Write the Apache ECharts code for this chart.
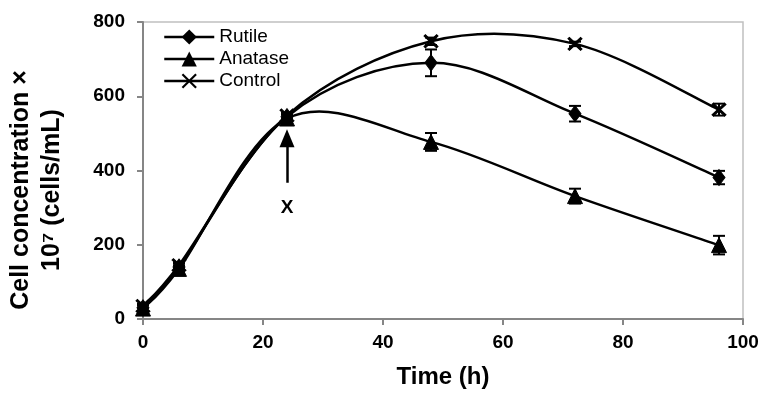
<!DOCTYPE html>
<html>
<head>
<meta charset="utf-8">
<script src="https://cdn.jsdelivr.net/npm/echarts@6/dist/echarts.min.js"></script>
<style>
  html, body { margin: 0; padding: 0; background: #fff; }
  #chart { width: 762px; height: 394px; }
</style>
</head>
<body>
<div id="chart"></div>
<script>
// sampling times (h)
const times = [0, 6, 24, 48, 72, 96];
// cell concentration x 10^7 cells/mL
const rutile  = [30, 140, 545, 690, 553, 381];
const anatase = [28, 135, 540, 477, 331, 199];
const control = [35, 145, 548, 748, 741, 564];
// error bars (+/-)
const rutileErr  = [8, 10, 10, 36, 21, 18];
const anataseErr = [8, 10, 10, 24, 20, 25];
const controlErr = [6, 8, 8, 10, 6, 16];
const seriesNames = ['Rutile', 'Anatase', 'Control'];
// arrow marking addition point (end = centre of the arrow head)
const arrowFrom = [24, 367];
const arrowTo = [24, 487];
const arrowLabelAt = [24, 300];

const font = '"Liberation Sans", Arial, sans-serif';
const crossPath = 'path://M0,1 L1,0 L5,4 L9,0 L10,1 L6,5 L10,9 L9,10 L5,6 L1,10 L0,9 L4,5 Z';

function pairs(vals) {
  return times.map((t, i) => [t, vals[i]]);
}

// spline like the spreadsheet "smoothed line", drawn segment by segment on the axis scale
function curveSeries(vals) {
  return {
    type: 'custom',
    silent: true,
    z: 2,
    data: pairs(vals),
    encode: { x: 0, y: 1 },
    renderItem: function (params, api) {
      const i = params.dataIndex;
      if (i === 0) return { type: 'group', children: [] };
      const n = times.length;
      const p = j => {
        j = Math.max(0, Math.min(n - 1, j));
        return api.coord([times[j], vals[j]]);
      };
      const p0 = p(i - 2), p1 = p(i - 1), p2 = p(i), p3 = p(i + 1);
      return {
        type: 'bezierCurve',
        shape: {
          x1: p1[0], y1: p1[1], x2: p2[0], y2: p2[1],
          cpx1: p1[0] + (p2[0] - p0[0]) / 6, cpy1: p1[1] + (p2[1] - p0[1]) / 6,
          cpx2: p2[0] - (p3[0] - p1[0]) / 6, cpy2: p2[1] - (p3[1] - p1[1]) / 6
        },
        style: { stroke: '#000', lineWidth: 2.5, fill: null }
      };
    }
  };
}

function errorSeries(vals, errs) {
  return {
    type: 'custom',
    silent: true,
    z: 3,
    data: times.map((t, i) => [t, vals[i], errs[i]]),
    encode: { x: 0, y: 1 },
    renderItem: function (params, api) {
      const x = api.value(0), y = api.value(1), e = api.value(2);
      const hi = api.coord([x, y + e]);
      const lo = api.coord([x, y - e]);
      const w = 6;
      const st = { stroke: '#000', lineWidth: 2 };
      return {
        type: 'group',
        children: [
          { type: 'line', shape: { x1: hi[0], y1: hi[1], x2: lo[0], y2: lo[1] }, style: st },
          { type: 'line', shape: { x1: hi[0] - w, y1: hi[1], x2: hi[0] + w, y2: hi[1] }, style: st },
          { type: 'line', shape: { x1: lo[0] - w, y1: lo[1], x2: lo[0] + w, y2: lo[1] }, style: st }
        ]
      };
    }
  };
}

// markers only (curve comes from curveSeries)
function markerSeries(name, vals, symbol, size) {
  return {
    name: name,
    type: 'line',
    data: pairs(vals),
    symbol: symbol,
    symbolSize: size,
    showAllSymbol: true,
    z: 4,
    lineStyle: { color: '#000', width: 2.5, opacity: 0 },
    itemStyle: { color: '#000', borderColor: '#000' }
  };
}

const chart = echarts.init(document.getElementById('chart'));
const rutileS = markerSeries('Rutile', rutile, 'diamond', [12, 16]);
const anataseS = markerSeries('Anatase', anatase, 'triangle', [15, 15]);
const controlS = markerSeries('Control', control, crossPath, [14, 13]);
controlS.markLine = {
  silent: true,
  symbol: ['none', 'triangle'],
  symbolSize: [15, 18],
  label: { show: false },
  lineStyle: { color: '#000', width: 2.5, type: 'solid', opacity: 1 },
  data: [[{ coord: arrowFrom }, { coord: arrowTo }]]
};
controlS.markPoint = {
  silent: true,
  symbol: 'rect',
  symbolSize: 1,
  itemStyle: { color: 'rgba(0,0,0,0)' },
  label: { show: true, position: 'inside', formatter: 'X', color: '#000', fontFamily: font, fontSize: 19, fontWeight: 'bold' },
  data: [{ coord: arrowLabelAt }]
};

chart.setOption({
  animation: false,
  grid: {
    left: 143, right: 19, top: 22, bottom: 71,
    show: true, borderColor: '#c0c0c0', borderWidth: 1.5
  },
  legend: {
    data: seriesNames,
    orient: 'vertical',
    left: 163,
    top: 27,
    padding: 0,
    itemWidth: 50,
    itemHeight: 19,
    itemGap: 2,
    lineStyle: { color: '#000', width: 2.5, opacity: 1 },
    textStyle: { fontFamily: font, fontSize: 19, color: '#000', lineHeight: 20 }
  },
  xAxis: {
    type: 'value',
    min: 0, max: 100, interval: 20,
    name: 'Time (h)',
    nameLocation: 'middle',
    nameGap: 46,
    nameTextStyle: { fontFamily: font, fontSize: 24, fontWeight: 'bold', color: '#000' },
    axisLine: { lineStyle: { color: '#868686', width: 2 } },
    axisTick: { show: true, inside: false, length: 6, lineStyle: { color: '#868686', width: 2 } },
    axisLabel: { margin: 14, fontFamily: font, fontSize: 19, fontWeight: 'bold', color: '#000' },
    splitLine: { show: false }
  },
  yAxis: {
    type: 'value',
    min: 0, max: 800, interval: 200,
    axisLine: { show: true, lineStyle: { color: '#868686', width: 2 } },
    axisTick: { show: true, inside: false, length: 6, lineStyle: { color: '#868686', width: 2 } },
    axisLabel: { margin: 18, fontFamily: font, fontSize: 19, fontWeight: 'bold', color: '#000' },
    splitLine: { show: false }
  },
  graphic: [{
    type: 'text',
    x: 37, y: 190,
    rotation: Math.PI / 2,
    style: {
      text: 'Cell concentration ×\n10⁷ (cells/mL)',
      font: 'bold 25px "Liberation Sans", Arial, sans-serif',
      fill: '#000',
      align: 'center',
      verticalAlign: 'middle',
      lineHeight: 31
    }
  }],
  series: [
    curveSeries(rutile),
    curveSeries(anatase),
    curveSeries(control),
    errorSeries(rutile, rutileErr),
    errorSeries(anatase, anataseErr),
    errorSeries(control, controlErr),
    rutileS, anataseS, controlS
  ]
});
</script>
</body>
</html>
